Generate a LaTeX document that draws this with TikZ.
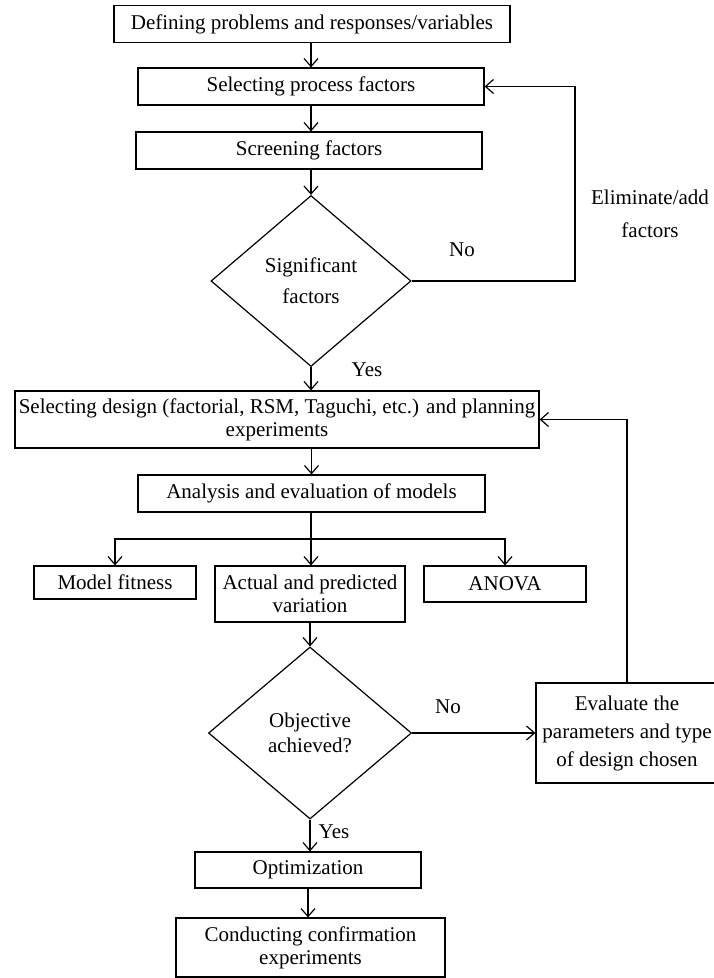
\documentclass[tikz,border=0pt]{standalone}
\usepackage{fontspec}
\setmainfont{Liberation Serif}
\usetikzlibrary{shapes.geometric,arrows.meta}

\begin{document}
\begin{tikzpicture}[x=0.5pt,y=-0.5pt]
            \tikzstyle{every node}=[font=\fontsize{10.5}{11.5}\selectfont, text=black, align=center]
            \tikzstyle{box}=[draw=black, line width=0.6pt, inner sep=1pt]
            \tikzstyle{decision}=[diamond, draw=black, line width=0.6pt, inner sep=0pt]
            \tikzstyle{flow}=[line width=0.6pt, -{Straight Barb[length=4pt,width=7pt]}]
            \tikzstyle{plain}=[line width=0.6pt]

            \useasboundingbox (0,0) rectangle (713,978);

            \node[box, minimum width=198pt, minimum height=18.5pt] (define) at (312,24) {Defining problems and responses/variables};
            \node[box, minimum width=173pt, minimum height=18.5pt] (process) at (311,86.5) {Selecting process factors};
            \node[box, minimum width=173pt, minimum height=18.5pt] (screen) at (309,150.5) {Screening factors};
            \node[decision, minimum width=100pt, minimum height=85.5pt, font=\fontsize{10.5}{15.5}\selectfont] (sig) at (311,281) {Significant\\factors};
            \node[box, minimum width=262pt, minimum height=28.5pt] (design) at (277,419.5) {Selecting design (factorial, RSM, Taguchi, etc.) and planning\\experiments};
            \node[box, minimum width=173.5pt, minimum height=18.5pt] (analysis) at (311.5,493.5) {Analysis and evaluation of models};
            \node[box, minimum width=81pt, minimum height=16.5pt] (fitness) at (115,582.5) {Model fitness};
            \node[box, minimum width=95pt, minimum height=28pt] (actual) at (310,594) {Actual and predicted\\variation};
            \node[box, minimum width=81pt, minimum height=18pt] (anova) at (505,584) {ANOVA};
            \node[decision, minimum width=101.5pt, minimum height=86pt, font=\fontsize{10.5}{12.5}\selectfont] (obj) at (310,733) {Objective\\achieved?};
            \node[box, minimum width=91pt, minimum height=50pt, font=\fontsize{10.5}{14}\selectfont] (evaluate) at (627,733) {Evaluate the\\parameters and type\\of design chosen};
            \node[box, minimum width=113pt, minimum height=18pt] (optim) at (308,870) {Optimization};
            \node[box, minimum width=134.5pt, minimum height=29.5pt] (confirm) at (310.5,947.5) {Conducting confirmation\\experiments};

            \node (no1) at (462,250) {No};
            \node (elim) at (650,197) {Eliminate/add};
            \node (elimb) at (650,230) {factors};
            \node (yes1) at (367,370) {Yes};
            \node (no2) at (448,707) {No};
            \node (yes2) at (334,832) {Yes};

            \coordinate (loop) at (575,281);
            \coordinate (split) at (311,539);

            \draw[flow] (define.south -| process) -- (process);
            \draw[flow] (process) -- (process |- screen.north);
            \draw[flow] (screen.south -| process) -- (sig);
            \draw[flow] (sig.east) -- (loop) |- (process.east);
            \draw[flow] (sig.south) -- (sig.south |- design.north);
            \draw[flow] (design.south -| analysis) -- (analysis);
            \draw[plain] (split |- analysis.south) -- (split);
            \draw[flow] (split) -| (fitness.north);
            \draw[flow] (split) -- (split |- actual.north);
            \draw[flow] (split) -| (anova.north);
            \draw[flow] (actual) -- (obj);
            \draw[flow] (obj.east) -- (evaluate.west);
            \draw[flow] (evaluate.north) |- (design.east);
            \draw[flow] (obj.south) -- (obj.south |- optim.north);
            \draw[flow] (optim) -- (optim |- confirm.north);
        \end{tikzpicture}
\end{document}
